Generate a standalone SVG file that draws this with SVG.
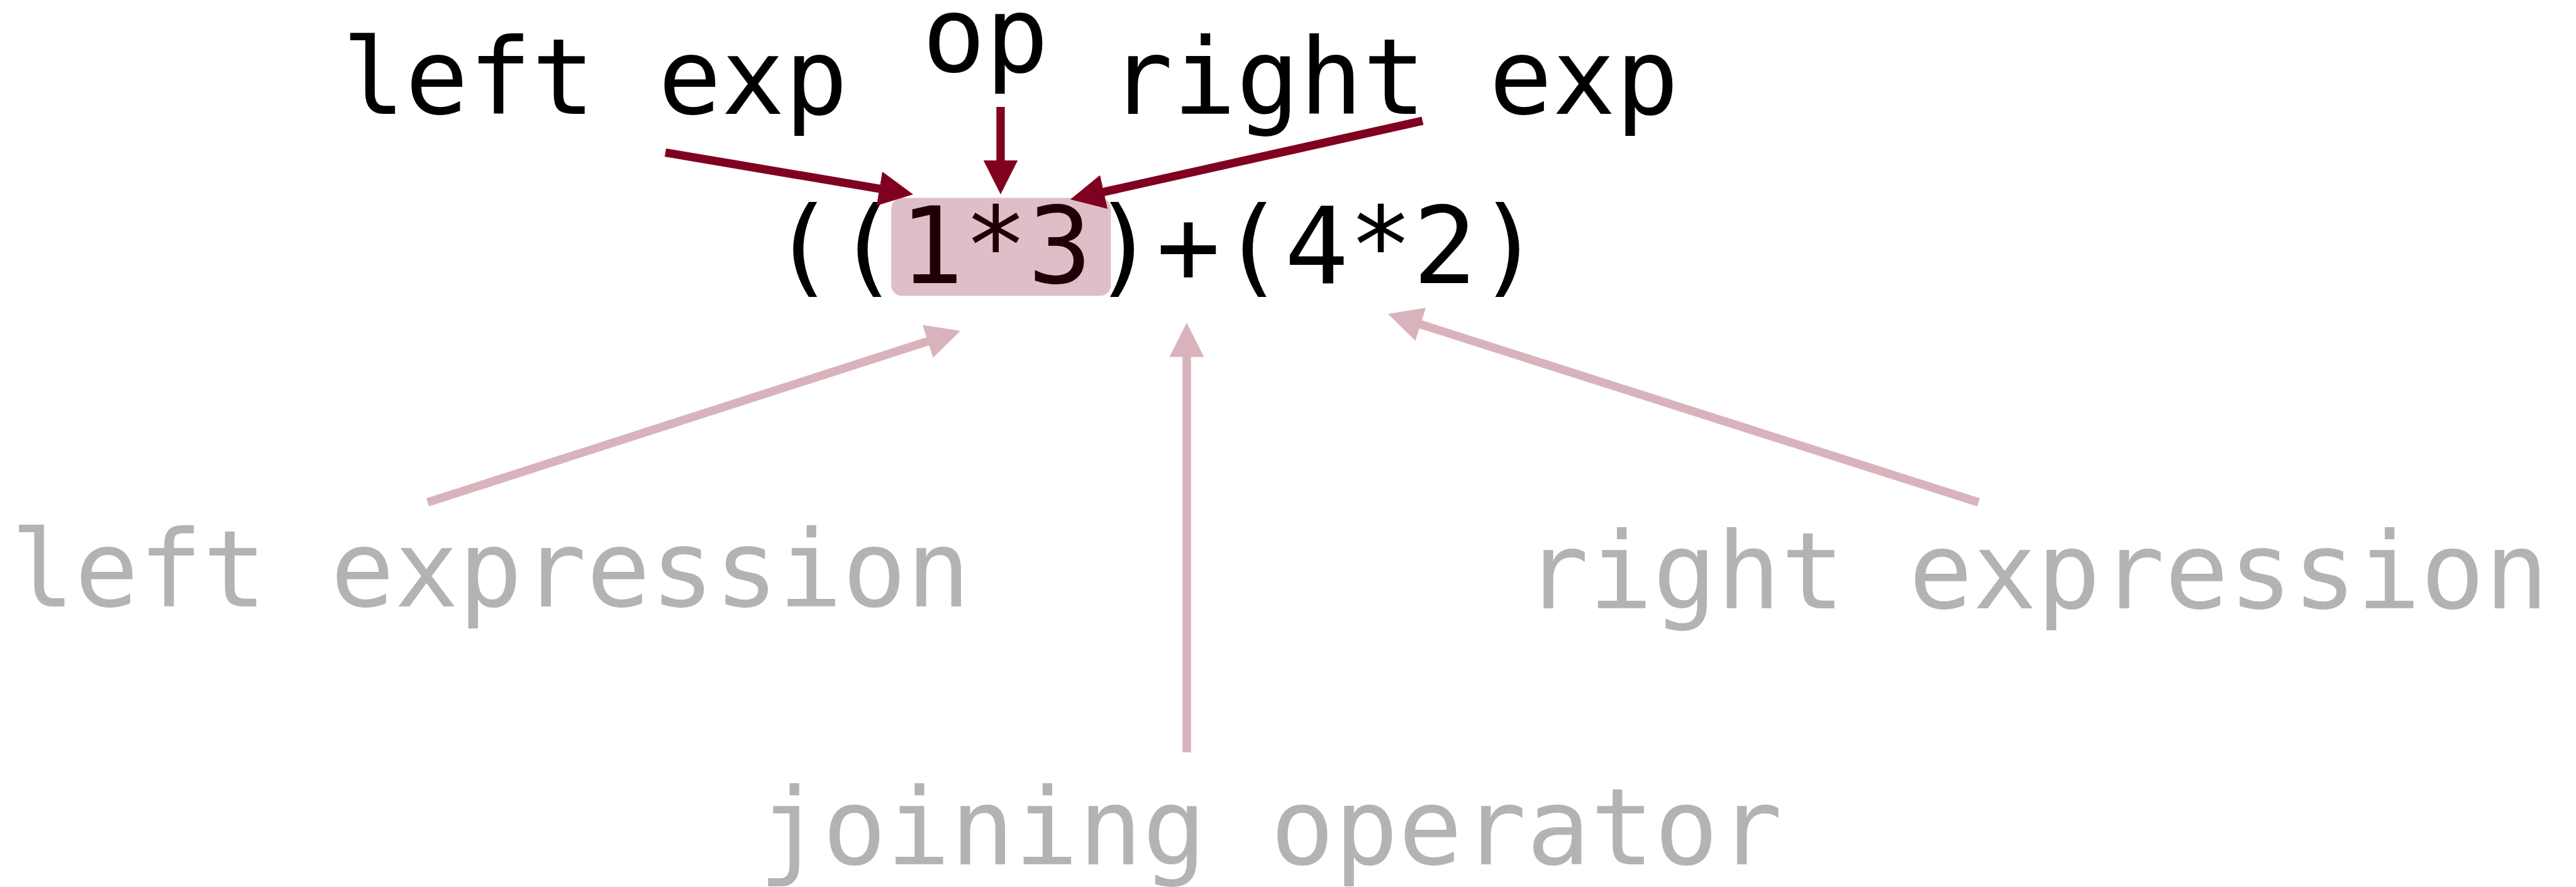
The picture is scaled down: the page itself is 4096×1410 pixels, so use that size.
<svg xmlns="http://www.w3.org/2000/svg" width="4096" height="1410" viewBox="0 0 4096 1410">
<style>
text{font-family:"DejaVu Sans Mono","Liberation Mono",monospace;font-size:167px}
.k{fill:#000}
.g{fill:#b3b3b3;font-size:169px}
.m{font-size:169.5px}
.dk{stroke:#800020;stroke-width:13.3;fill:none}
.lt{stroke:#d9b3bc;stroke-width:13.5;fill:none}
</style>
<defs>
<marker id="hd" markerUnits="userSpaceOnUse" markerWidth="60" markerHeight="60" viewBox="0 -30 60 60" refX="4.5" refY="0" orient="auto"><path d="M0,-27.5 L54.5,0 L0,27.5 z" fill="#800020"/></marker>
<marker id="hl" markerUnits="userSpaceOnUse" markerWidth="60" markerHeight="60" viewBox="0 -30 60 60" refX="4.5" refY="0" orient="auto"><path d="M0,-27.5 L54.5,0 L0,27.5 z" fill="#d9b3bc"/></marker>
</defs>
<rect width="4096" height="1410" fill="#fff"/>
<g id="expr">
<text class="k m" x="1838.4" y="449.5" text-anchor="middle">((1*3)+(4*2)</text>
<rect x="1417" y="314.4" width="349.4" height="155.9" rx="17" fill="#800020" fill-opacity="0.25"/>
</g>
<g id="left-exp"><text class="k" x="946" y="181" text-anchor="middle">left exp</text></g>
<g id="op"><text class="k" x="1567" y="114" text-anchor="middle">op</text></g>
<g id="right-exp"><text class="k" x="2217" y="181" text-anchor="middle">right exp</text></g>
<g id="left-expression"><text class="g" x="780" y="964" text-anchor="middle">left expression</text></g>
<g id="right-expression"><text class="g" x="3238.5" y="967" text-anchor="middle">right expression</text></g>
<g id="joining-operator"><text class="g" x="2020" y="1373.5" text-anchor="middle">joining operator</text></g>
<g id="connectors">
<line class="dk" x1="1058" y1="242.5" x2="1402.7" y2="300.7" marker-end="url(#hd)"/>
<line class="dk" x1="1591" y1="170" x2="1591" y2="259" marker-end="url(#hd)"/>
<line class="dk" x1="2262" y1="192" x2="1750.8" y2="306.1" marker-end="url(#hd)"/>
<line class="lt" x1="680" y1="798.5" x2="1479.4" y2="541.3" marker-end="url(#hl)"/>
<line class="lt" x1="1887" y1="1196" x2="1887" y2="563" marker-end="url(#hl)"/>
<line class="lt" x1="3146" y1="798.5" x2="2254.6" y2="514.2" marker-end="url(#hl)"/>
</g>
</svg>
